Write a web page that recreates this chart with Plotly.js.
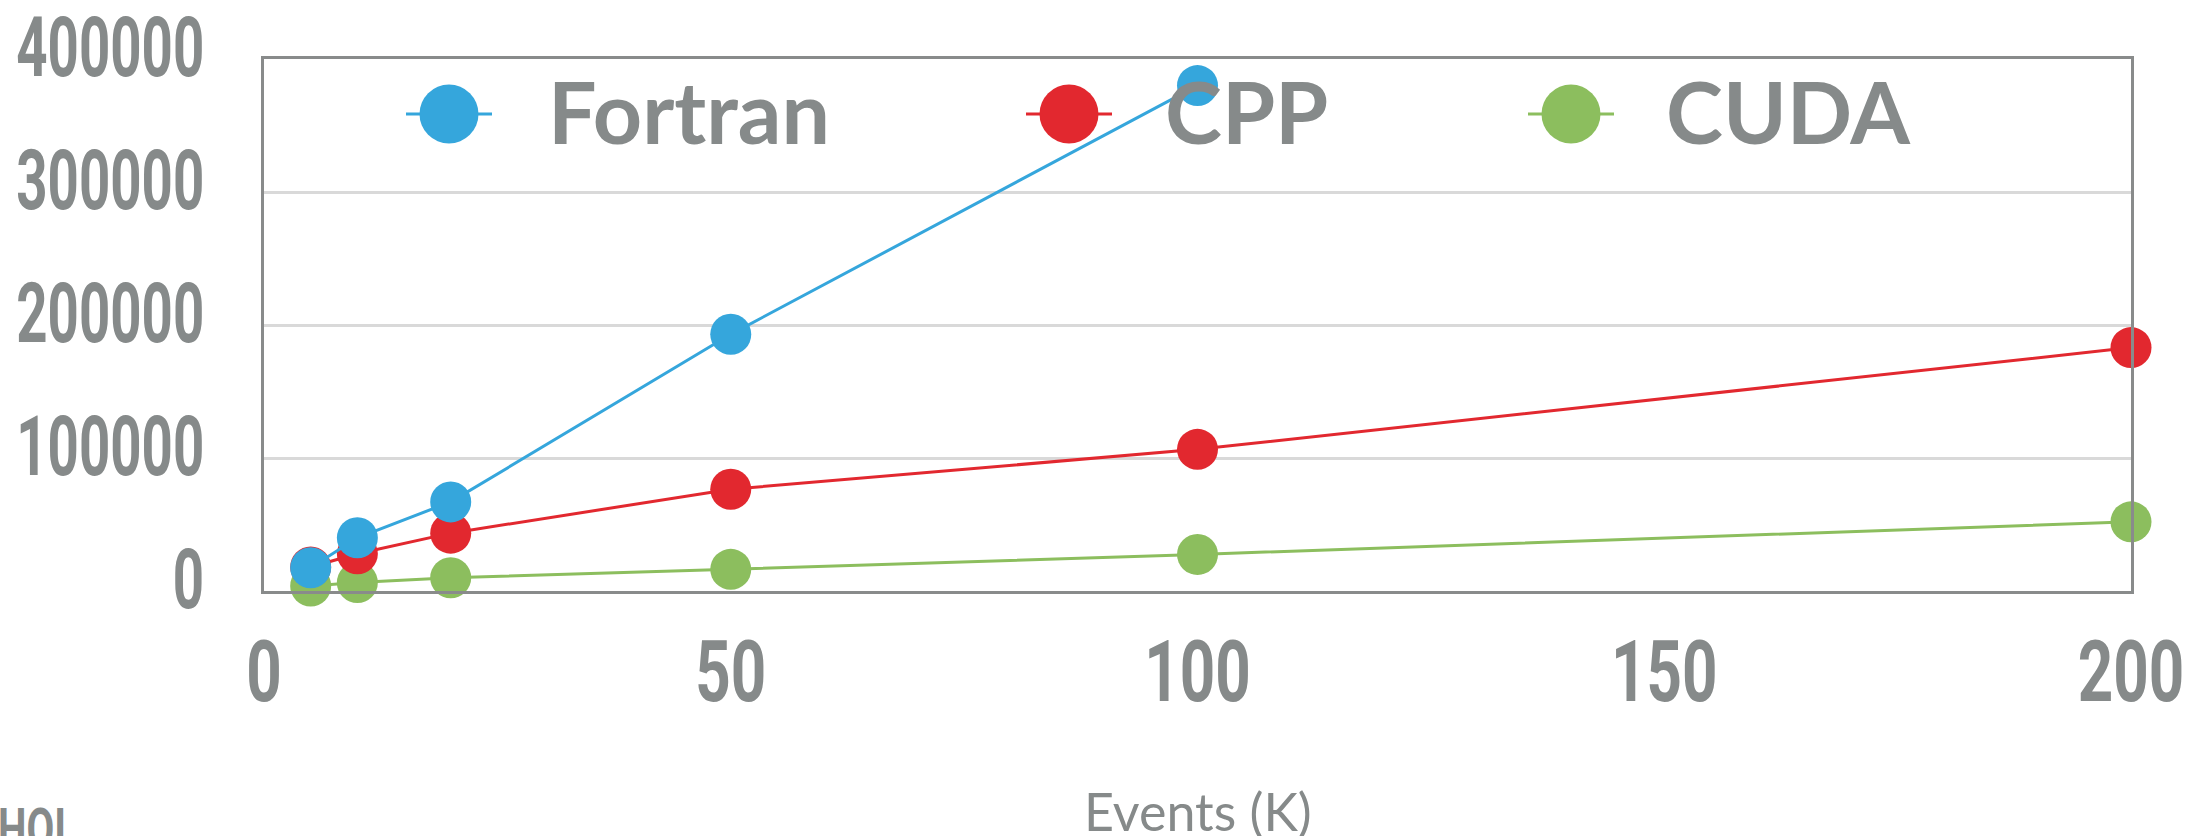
<!DOCTYPE html>
<html>
<head>
<meta charset="utf-8">
<script src="https://cdn.plot.ly/plotly-3.0.1.min.js"></script>
<style>
html, body { margin: 0; padding: 0; background: #ffffff; }
#chart { width: 2186px; height: 836px; }
</style>
</head>
<body>
<div id="chart"></div>
<script>
// ---- data ----
const seriesNames = ['Fortran', 'CPP', 'CUDA'];
const fortranEvents = [5, 10, 20, 50, 100];
const fortranValues = [17500, 40000, 67000, 193000, 380000];
const cppEvents = [5, 10, 20, 50, 100, 200];
const cppValues = [18000, 28000, 43500, 76500, 106500, 183000];
const cudaEvents = [5, 10, 20, 50, 100, 200];
const cudaValues = [3800, 6300, 10000, 16300, 27500, 52000];
const xTickValues = [0, 50, 100, 150, 200];
const yTickValues = [0, 100000, 200000, 300000, 400000];
const xAxisTitle = 'Events (K)';
const cornerText = 'HOI';

// ---- styles ----
const colors = { Fortran: '#35a6dc', CPP: '#e2282f', CUDA: '#8cbe5e' };
const gray = '#868a8a';
const numFont = 'Roboto, "Liberation Sans", sans-serif';
const sans = 'Lato, "Open Sans", sans-serif';

// plot area in pixels
const W = 2186, H = 836;
const M = { l: 264, r: 55, t: 59, b: 245 };
const pw = W - M.l - M.r, ph = H - M.t - M.b;
const px = x => (x - M.l) / pw;          // pixel -> paper x
const py = y => (H - M.b - y) / ph;      // pixel -> paper y

function series(name, xs, ys) {
  return {
    type: 'scatter', mode: 'lines+markers', name: name,
    x: xs, y: ys, cliponaxis: false, showlegend: false,
    line: { color: colors[name], width: 3 },
    marker: { color: colors[name], size: 41 },
    hoverinfo: 'x+y+name'
  };
}

// drawing order: CUDA bottom, CPP middle, Fortran on top
const data = [
  series('CUDA', cudaEvents, cudaValues),
  series('CPP', cppEvents, cppValues),
  series('Fortran', fortranEvents, fortranValues)
];

// manual legend (large markers like the reference)
const legendMarkerX = [449, 1069, 1571];
const legendTextX = [551, 1168, 1669];
const legendY = 114;
const shapes = [];
const annotations = [];
seriesNames.forEach((name, i) => {
  shapes.push({
    type: 'line', xref: 'paper', yref: 'paper', layer: 'above',
    x0: px(legendMarkerX[i] - 43), x1: px(legendMarkerX[i] + 43),
    y0: py(legendY), y1: py(legendY),
    line: { color: colors[name], width: 3 }
  });
  shapes.push({
    type: 'circle', xref: 'paper', yref: 'paper', layer: 'above',
    xsizemode: 'pixel', ysizemode: 'pixel',
    xanchor: px(legendMarkerX[i]), yanchor: py(legendY),
    x0: -29.5, x1: 29.5, y0: -29.5, y1: 29.5,
    fillcolor: colors[name], line: { width: 0 }
  });
  annotations.push({
    xref: 'paper', yref: 'paper', x: px(legendTextX[i] - 5), y: py(legendY - 4),
    xanchor: 'left', yanchor: 'middle', showarrow: false,
    text: name, font: { family: sans, size: 86, color: gray, weight: 700 }
  });
});
// x-axis title (placed as an annotation so it can sit as low as in the reference)
annotations.push({
  xref: 'paper', yref: 'paper', x: px(1198), y: py(811),
  xanchor: 'center', yanchor: 'middle', showarrow: false,
  text: xAxisTitle, font: { family: sans, size: 52, color: gray }
});
annotations.push({
  xref: 'paper', yref: 'paper', x: px(-4), y: py(794),
  xanchor: 'left', yanchor: 'top', showarrow: false,
  text: cornerText, font: { family: numFont, size: 56, color: gray, weight: 700 }
});

const layout = {
  width: W, height: H,
  margin: M,
  paper_bgcolor: '#ffffff', plot_bgcolor: '#ffffff',
  showlegend: false,
  xaxis: {
    range: [0, 200], tickvals: xTickValues, ticktext: xTickValues.map(String),
    showgrid: false, zeroline: false, ticks: '',
    showline: true, mirror: true, linecolor: '#898b8b', linewidth: 3,
    tickfont: { family: numFont, size: 86, color: gray, weight: 700 },
    ticklabelstandoff: 4, ticklabeloverflow: 'allow',
    automargin: false
  },
  yaxis: {
    range: [0, 400000], tickvals: yTickValues, tickformat: 'd',
    showgrid: true, gridcolor: '#d9d9d9', gridwidth: 3,
    zeroline: false, ticks: '',
    showline: true, mirror: true, linecolor: '#898b8b', linewidth: 3,
    tickfont: { family: numFont, size: 84, color: gray, weight: 700 },
    ticklabelstandoff: 40, ticklabelshift: -12, ticklabeloverflow: 'allow',
    automargin: false
  },
  shapes: shapes,
  annotations: annotations
};

// narrow the condensed-style numerals horizontally (text stays real text)
function squeeze(selector, sx, align) {
  document.querySelectorAll(selector).forEach(t => {
    const bb = t.getBBox();
    const p = align === 'right' ? bb.x + bb.width : align === 'left' ? bb.x : bb.x + bb.width / 2;
    const base = t.getAttribute('transform') || '';
    t.setAttribute('transform', base + ' translate(' + p + ',0) scale(' + sx + ',1) translate(' + (-p) + ',0)');
  });
}

Plotly.newPlot('chart', data, layout, { displayModeBar: false, staticPlot: true }).then(() => {
  squeeze('#chart .xtick text', 0.72, 'center');
  squeeze('#chart .ytick text', 0.65, 'right');
  document.querySelectorAll('#chart .annotation-text').forEach(t => {
    if (t.textContent === cornerText) {
      const bb = t.getBBox();
      const p = bb.x;
      t.setAttribute('transform', (t.getAttribute('transform') || '') +
        ' translate(' + p + ',0) scale(0.72,1) translate(' + (-p) + ',0)');
    }
  });
});
</script>
</body>
</html>
